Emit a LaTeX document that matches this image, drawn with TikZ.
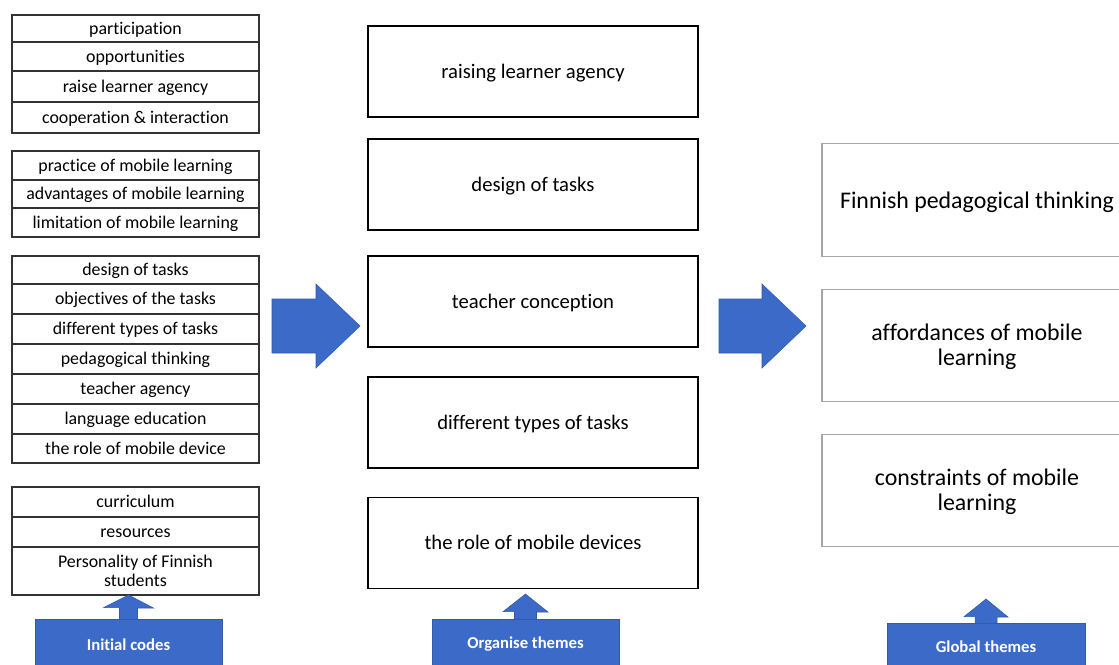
\documentclass[tikz,border=0pt]{standalone}
\usepackage{fontspec}
\setmainfont{Carlito}[Ligatures=NoCommon]
\definecolor{arrowblue}{HTML}{3B6AC8}
\definecolor{lightframe}{HTML}{A6A6A6}
\begin{document}
\begin{tikzpicture}[x=0.75pt,y=-0.75pt,
  code/.style={draw=black!80, line width=0.8pt, minimum width=247*0.75pt, inner sep=0pt, align=center,
    font=\fontsize{13.4}{14.3}\selectfont},
  theme/.style={draw=black, line width=0.8pt, minimum width=330*0.75pt, minimum height=91*0.75pt, inner sep=0pt, align=center,
    font=\fontsize{15.5}{17}\selectfont, text height=11.2pt, text depth=0.8pt},
  globe/.style={draw=lightframe, line width=0.9pt, minimum width=310*0.75pt, minimum height=112.5*0.75pt, inner sep=0pt, align=center,
    font=\fontsize{17.9}{18.8}\selectfont},
  codeline/.style={text height=9.65pt, text depth=0.67pt},
  globeline/.style={text height=12.9pt, text depth=0.9pt},
  stage/.style={fill=arrowblue, draw=arrowblue!85!black, line width=0.5pt, inner sep=0pt, text=white,
    font=\fontsize{12.5}{14}\selectfont\bfseries},
  bigarrow/.style={fill=arrowblue, draw=arrowblue!85!black, line width=0.4pt}
]
\useasboundingbox (0,0) rectangle (1119,664);
\clip (0,0) rectangle (1119,664);
\fill[white] (0,0) rectangle (1119,664);

% ---- initial codes (left column)
\node[code, codeline, minimum height=27*0.75pt] (c1) at (135.5,28.5) {participation};
\node[code, codeline, minimum height=29*0.75pt] (c2) at (135.5,56.5) {opportunities};
\node[code, codeline, minimum height=31*0.75pt] (c3) at (135.5,86.5) {raise learner agency};
\node[code, codeline, minimum height=31*0.75pt] (c4) at (135.5,117.5) {cooperation \& interaction};

\node[code, codeline, minimum height=29*0.75pt] (c5) at (135.5,165.5) {practice of mobile learning};
\node[code, codeline, minimum height=28*0.75pt] (c6) at (135.5,194) {advantages of mobile learning};
\node[code, codeline, minimum height=29*0.75pt] (c7) at (135.5,222.5) {limitation of mobile learning};

\node[code, codeline, minimum height=28*0.75pt] (c8) at (135.5,270) {design of tasks};
\node[code, codeline, minimum height=30*0.75pt] (c9) at (135.5,299) {objectives of the tasks};
\node[code, codeline, minimum height=30*0.75pt] (c10) at (135.5,329) {different types of tasks};
\node[code, codeline, minimum height=30*0.75pt] (c11) at (135.5,359) {pedagogical thinking};
\node[code, codeline, minimum height=30*0.75pt] (c12) at (135.5,389) {teacher agency};
\node[code, codeline, minimum height=30*0.75pt] (c13) at (135.5,419) {language education};
\node[code, codeline, minimum height=29*0.75pt] (c14) at (135.5,448.5) {the role of mobile device};

\node[code, codeline, minimum height=30*0.75pt] (c15) at (135.5,502) {curriculum};
\node[code, codeline, minimum height=30*0.75pt] (c16) at (135.5,532) {resources};
\node[code, text depth=0.67pt, minimum height=48*0.75pt] (c17) at (135.5,571) {Personality of Finnish\\students};

% ---- organised themes (middle column)
\node[theme] (t1) at (533,71.5) {raising learner agency};
\node[theme] (t2) at (533,184.5) {design of tasks};
\node[theme] (t3) at (533,301.5) {teacher conception};
\node[theme] (t4) at (533,422.5) {different types of tasks};
\node[theme] (t5) at (533,543) {the role of mobile devices};

% ---- global themes (right column)
\node[globe, globeline] (g1) at (977,200) {Finnish pedagogical thinking};
\node[globe, text depth=0.9pt] (g2) at (977,345.5) {affordances of mobile\\learning};
\node[globe, text depth=0.9pt] (g3) at (977,490.5) {constraints of mobile\\learning};

% ---- big arrows between columns
\draw[bigarrow] (272,299) -- (316,299) -- (316,284) -- (360,326) -- (316,368) -- (316,353) -- (272,353) -- cycle;
\draw[bigarrow] (719,299) -- (762,299) -- (762,284) -- (806,326) -- (762,368) -- (762,353) -- (719,353) -- cycle;

% ---- stage labels with up arrows
\node[stage, minimum width=187*0.75pt, minimum height=51*0.75pt] (s1) at (128.5,644.5) {Initial codes};
\node[stage, minimum width=187*0.75pt, minimum height=51*0.75pt] (s2) at (525.5,644.5) {Organise themes};
\node[stage, minimum width=198*0.75pt, minimum height=47*0.75pt] (s3) at (986,646.5) {Global themes};

\draw[bigarrow] (s1.north) ++(-9,0.5) -- ++(0,-11.5) -- ++(-16,0) -- (128.5,595) -- (153.5,608) -- ++(-16,0) -- ++(0,11.5) -- cycle;
\draw[bigarrow] (s2.north) ++(-11,0.5) -- ++(0,-7.5) -- ++(-11.5,0) -- (525.5,594) -- (548,612) -- ++(-11.5,0) -- ++(0,7.5) -- cycle;
\draw[bigarrow] (s3.north) ++(-11,0.5) -- ++(0,-6.5) -- ++(-11,0) -- (986,599) -- (1008,617) -- ++(-11,0) -- ++(0,6.5) -- cycle;
\end{tikzpicture}
\end{document}
